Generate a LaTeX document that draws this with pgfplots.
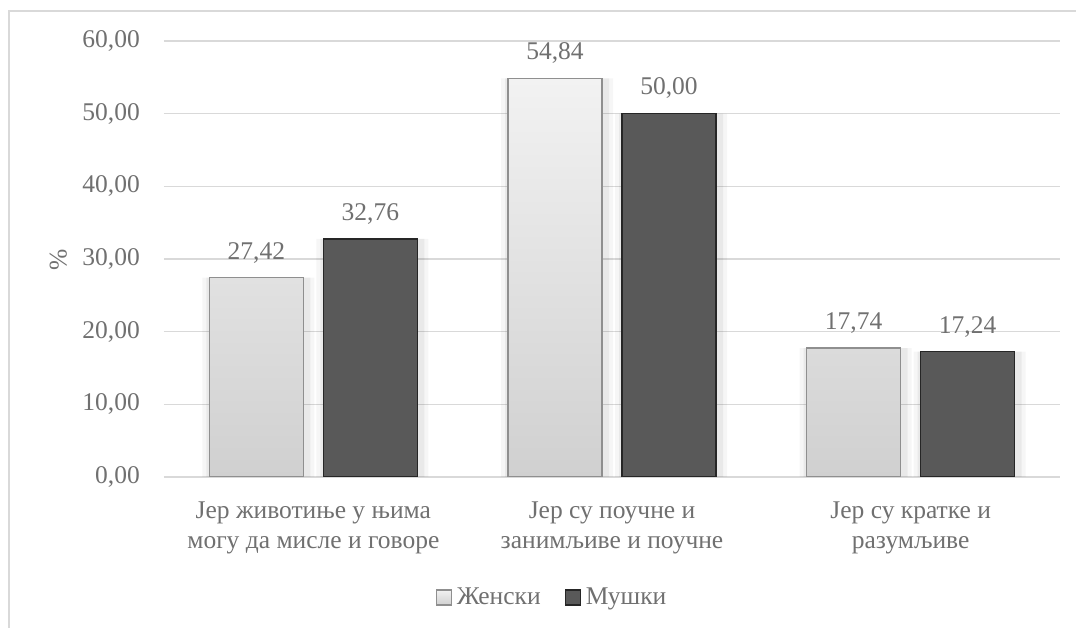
\documentclass[border=0pt]{standalone}
\usepackage{fontspec}
\setmainfont{Liberation Serif}
\usepackage{pgfplots}
\pgfplotsset{compat=1.18}

\definecolor{txt}{HTML}{707070}
\definecolor{gridc}{HTML}{D9D9D9}
\definecolor{lightedge}{HTML}{8F8F8F}
\definecolor{lighttop}{HTML}{F2F2F2}
\definecolor{lightbot}{HTML}{D0D0D0}
\definecolor{darkfill}{HTML}{595959}
\definecolor{darkedge}{HTML}{262626}

\pgfplotstableread{
x f m
0 27.42 32.76
1 54.84 50.00
2 17.74 17.24
}\datatable

\pgfplotsset{
  glow/.style={forget plot, draw=none, fill=black, fill opacity=#1},
  lbl/.style={nodes near coords,
    nodes near coords style={color=txt, inner sep=0pt, anchor=south, yshift=14pt,
      /pgf/number format/.cd, fixed, fixed zerofill, precision=2, use comma, assume math mode=true}},
}

\begin{document}
\fontsize{25.5}{29.5}\selectfont
\begin{tikzpicture}
\begin{axis}[
    at={(0pt,0pt)}, anchor=south west,
    scale only axis,
    width=896pt, height=436pt,
    ybar, bar width=94pt,
    xmin=-0.5, xmax=2.5,
    ymin=0, ymax=60,
    xtick={0,1,2},
    xticklabels={{Јер животиње у њима\\могу да мисле и говоре},
                 {Јер су поучне и\\занимљиве и поучне},
                 {Јер су кратке и\\разумљиве}},
    ytick={0,10,...,60},
    major tick length=0pt,
    axis line style={draw=none},
    ymajorgrids, grid style={gridc, line width=1.5pt},
    font=\fontsize{25.5}{29.5}\selectfont,
    x tick label style={align=center, color=txt, inner sep=0pt, anchor=north, yshift=-25pt},
    y tick label style={color=txt, inner sep=0pt, anchor=east, xshift=-24pt},
    yticklabel style={/pgf/number format/.cd, fixed, fixed zerofill, precision=2, use comma, assume math mode=true},
    ylabel={\%},
    every axis y label/.style={at={(axis description cs:-0.118,0.498)}, rotate=90, anchor=center, color=txt},
    legend style={at={(0.433,-0.2775)}, anchor=center, draw=none, fill=none,
        legend columns=2, text=txt, font=\fontsize{25.5}{29.5}\selectfont,
        /tikz/every even column/.append style={column sep=22pt},
        /tikz/every odd column/.append style={column sep=3pt}},
]
% soft shadows round the bars
\addplot[glow=0.035, bar width=112pt, bar shift=-55pt] table[x=x, y=f] {\datatable};
\addplot[glow=0.05, bar width=104pt, bar shift=-55pt] table[x=x, y=f] {\datatable};
\addplot[glow=0.035, bar width=112pt, bar shift=59pt] table[x=x, y=m] {\datatable};
\addplot[glow=0.05, bar width=104pt, bar shift=59pt] table[x=x, y=m] {\datatable};

\addplot[lbl, bar shift=-57pt, draw=lightedge, line width=1.5pt, top color=lighttop, bottom color=lightbot, shading=axis,
    legend image code/.code={\draw[draw=lightedge, line width=1.2pt, top color=lighttop, bottom color=lightbot] (0pt,-7pt) rectangle (15pt,8pt);}]
    table[x=x, y=f] {\datatable};
\addplot[lbl, bar shift=57pt, draw=darkedge, line width=1.5pt, fill=darkfill,
    legend image code/.code={\draw[draw=darkedge, line width=1.2pt, fill=darkfill] (0pt,-7pt) rectangle (15pt,8pt);}]
    table[x=x, y=m] {\datatable};
\legend{Женски, Мушки}
\end{axis}
\draw[gridc, line width=1.5pt] (-155pt,466pt) rectangle (930pt,-170pt);
\pgfresetboundingbox
\useasboundingbox (-164pt,-151pt) rectangle (912pt,477pt);
\end{tikzpicture}
\end{document}
